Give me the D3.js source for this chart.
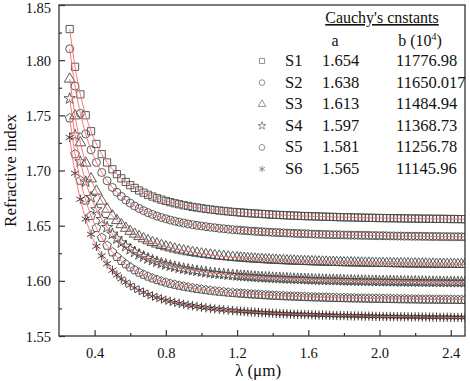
<!DOCTYPE html>
<html>
<head>
<meta charset="utf-8">
<script src="https://cdn.jsdelivr.net/npm/d3@7"></script>
<style>
  body { margin: 0; background: #fff; }
  text { font-family: "Liberation Serif", "Times New Roman", serif; fill: #111; }
</style>
</head>
<body>
<div id="chart"></div>
<script>
// wavelength (um) of the measured points
const lambda = [
  0.26, 0.29, 0.32, 0.35, 0.38, 0.41, 0.44, 0.47, 0.50,
  0.525, 0.55, 0.575, 0.60, 0.625, 0.65, 0.675, 0.70, 0.725, 0.75, 0.775, 0.80,
  0.825, 0.85, 0.875, 0.90, 0.925, 0.95, 0.975, 1.00, 1.025, 1.05, 1.075, 1.10,
  1.125, 1.15, 1.175, 1.20,
  1.22, 1.24, 1.26, 1.28, 1.30, 1.32, 1.34, 1.36, 1.38, 1.40,
  1.42, 1.44, 1.46, 1.48, 1.50, 1.52, 1.54, 1.56, 1.58, 1.60,
  1.62, 1.64, 1.66, 1.68, 1.70, 1.72, 1.74, 1.76, 1.78, 1.80,
  1.82, 1.84, 1.86, 1.88, 1.90, 1.92, 1.94, 1.96, 1.98, 2.00,
  2.02, 2.04, 2.06, 2.08, 2.10, 2.12, 2.14, 2.16, 2.18, 2.20,
  2.22, 2.24, 2.26, 2.28, 2.30, 2.32, 2.34, 2.36, 2.38, 2.40,
  2.42, 2.44, 2.46, 2.48
];

const s1 = [
  1.8282, 1.7940, 1.7690, 1.7501, 1.7356, 1.7241, 1.7148, 1.7073, 1.7011,
  1.6967, 1.6929, 1.6896, 1.6867, 1.6842, 1.6819, 1.6799, 1.6780, 1.6764, 1.6749, 1.6736, 1.6724,
  1.6713, 1.6703, 1.6694, 1.6685, 1.6678, 1.6670, 1.6664, 1.6658, 1.6652, 1.6647, 1.6642, 1.6637,
  1.6633, 1.6629, 1.6625, 1.6622,
  1.6619, 1.6617, 1.6614, 1.6612, 1.6610, 1.6608, 1.6606, 1.6604, 1.6602, 1.6600,
  1.6598, 1.6597, 1.6595, 1.6594, 1.6592, 1.6591, 1.6590, 1.6588, 1.6587, 1.6586,
  1.6585, 1.6584, 1.6583, 1.6582, 1.6581, 1.6580, 1.6579, 1.6578, 1.6577, 1.6576,
  1.6576, 1.6575, 1.6574, 1.6573, 1.6573, 1.6572, 1.6571, 1.6571, 1.6570, 1.6569,
  1.6569, 1.6568, 1.6568, 1.6567, 1.6567, 1.6566, 1.6566, 1.6565, 1.6565, 1.6564,
  1.6564, 1.6563, 1.6563, 1.6563, 1.6562, 1.6562, 1.6562, 1.6561, 1.6561, 1.6560,
  1.6560, 1.6560, 1.6559, 1.6559
];
const s2 = [
  1.8103, 1.7765, 1.7518, 1.7331, 1.7187, 1.7073, 1.6982, 1.6907, 1.6846,
  1.6803, 1.6765, 1.6732, 1.6704, 1.6678, 1.6656, 1.6636, 1.6618, 1.6602, 1.6587, 1.6574, 1.6562,
  1.6551, 1.6541, 1.6532, 1.6524, 1.6516, 1.6509, 1.6503, 1.6497, 1.6491, 1.6486, 1.6481, 1.6476,
  1.6472, 1.6468, 1.6464, 1.6461,
  1.6458, 1.6456, 1.6453, 1.6451, 1.6449, 1.6447, 1.6445, 1.6443, 1.6441, 1.6439,
  1.6438, 1.6436, 1.6435, 1.6433, 1.6432, 1.6430, 1.6429, 1.6428, 1.6427, 1.6426,
  1.6424, 1.6423, 1.6422, 1.6421, 1.6420, 1.6419, 1.6418, 1.6418, 1.6417, 1.6416,
  1.6415, 1.6414, 1.6414, 1.6413, 1.6412, 1.6412, 1.6411, 1.6410, 1.6410, 1.6409,
  1.6409, 1.6408, 1.6407, 1.6407, 1.6406, 1.6406, 1.6405, 1.6405, 1.6404, 1.6404,
  1.6404, 1.6403, 1.6403, 1.6402, 1.6402, 1.6402, 1.6401, 1.6401, 1.6401, 1.6400,
  1.6400, 1.6400, 1.6399, 1.6399
];
const s3 = [
  1.7829, 1.7496, 1.7252, 1.7068, 1.6925, 1.6813, 1.6723, 1.6650, 1.6589,
  1.6547, 1.6510, 1.6477, 1.6449, 1.6424, 1.6402, 1.6382, 1.6364, 1.6348, 1.6334, 1.6321, 1.6309,
  1.6299, 1.6289, 1.6280, 1.6272, 1.6264, 1.6257, 1.6251, 1.6245, 1.6239, 1.6234, 1.6229, 1.6225,
  1.6221, 1.6217, 1.6213, 1.6210,
  1.6207, 1.6205, 1.6202, 1.6200, 1.6198, 1.6196, 1.6194, 1.6192, 1.6190, 1.6189,
  1.6187, 1.6185, 1.6184, 1.6182, 1.6181, 1.6180, 1.6178, 1.6177, 1.6176, 1.6175,
  1.6174, 1.6173, 1.6172, 1.6171, 1.6170, 1.6169, 1.6168, 1.6167, 1.6166, 1.6165,
  1.6165, 1.6164, 1.6163, 1.6163, 1.6162, 1.6161, 1.6161, 1.6160, 1.6159, 1.6159,
  1.6158, 1.6158, 1.6157, 1.6157, 1.6156, 1.6156, 1.6155, 1.6155, 1.6154, 1.6154,
  1.6153, 1.6153, 1.6153, 1.6152, 1.6152, 1.6151, 1.6151, 1.6151, 1.6150, 1.6150,
  1.6150, 1.6149, 1.6149, 1.6149
];
const s4 = [
  1.7652, 1.7322, 1.7080, 1.6898, 1.6757, 1.6646, 1.6557, 1.6485, 1.6425,
  1.6382, 1.6346, 1.6314, 1.6286, 1.6261, 1.6239, 1.6220, 1.6202, 1.6186, 1.6172, 1.6159, 1.6148,
  1.6137, 1.6127, 1.6118, 1.6110, 1.6103, 1.6096, 1.6090, 1.6084, 1.6078, 1.6073, 1.6068, 1.6064,
  1.6060, 1.6056, 1.6052, 1.6049,
  1.6046, 1.6044, 1.6042, 1.6039, 1.6037, 1.6035, 1.6033, 1.6031, 1.6030, 1.6028,
  1.6026, 1.6025, 1.6023, 1.6022, 1.6020, 1.6019, 1.6018, 1.6017, 1.6016, 1.6014,
  1.6013, 1.6012, 1.6011, 1.6010, 1.6009, 1.6008, 1.6008, 1.6007, 1.6006, 1.6005,
  1.6004, 1.6004, 1.6003, 1.6002, 1.6001, 1.6001, 1.6000, 1.6000, 1.5999, 1.5998,
  1.5998, 1.5997, 1.5997, 1.5996, 1.5996, 1.5995, 1.5995, 1.5994, 1.5994, 1.5994,
  1.5993, 1.5993, 1.5992, 1.5992, 1.5991, 1.5991, 1.5991, 1.5990, 1.5990, 1.5990,
  1.5989, 1.5989, 1.5989, 1.5989
];
const s5 = [
  1.7475, 1.7149, 1.6909, 1.6729, 1.6590, 1.6480, 1.6391, 1.6320, 1.6260,
  1.6218, 1.6182, 1.6151, 1.6123, 1.6098, 1.6076, 1.6057, 1.6040, 1.6024, 1.6010, 1.5997, 1.5986,
  1.5975, 1.5966, 1.5957, 1.5949, 1.5942, 1.5935, 1.5928, 1.5923, 1.5917, 1.5912, 1.5907, 1.5903,
  1.5899, 1.5895, 1.5892, 1.5888,
  1.5886, 1.5883, 1.5881, 1.5879, 1.5877, 1.5875, 1.5873, 1.5871, 1.5869, 1.5867,
  1.5866, 1.5864, 1.5863, 1.5861, 1.5860, 1.5859, 1.5858, 1.5856, 1.5855, 1.5854,
  1.5853, 1.5852, 1.5851, 1.5850, 1.5849, 1.5848, 1.5847, 1.5846, 1.5846, 1.5845,
  1.5844, 1.5843, 1.5843, 1.5842, 1.5841, 1.5841, 1.5840, 1.5839, 1.5839, 1.5838,
  1.5838, 1.5837, 1.5837, 1.5836, 1.5836, 1.5835, 1.5835, 1.5834, 1.5834, 1.5833,
  1.5833, 1.5832, 1.5832, 1.5832, 1.5831, 1.5831, 1.5831, 1.5830, 1.5830, 1.5830,
  1.5829, 1.5829, 1.5829, 1.5828
];
const s6 = [
  1.7299, 1.6975, 1.6739, 1.6560, 1.6422, 1.6313, 1.6226, 1.6155, 1.6096,
  1.6054, 1.6018, 1.5987, 1.5960, 1.5935, 1.5914, 1.5895, 1.5877, 1.5862, 1.5848, 1.5836, 1.5824,
  1.5814, 1.5804, 1.5796, 1.5788, 1.5780, 1.5774, 1.5767, 1.5761, 1.5756, 1.5751, 1.5746, 1.5742,
  1.5738, 1.5734, 1.5731, 1.5727,
  1.5725, 1.5722, 1.5720, 1.5718, 1.5716, 1.5714, 1.5712, 1.5710, 1.5709, 1.5707,
  1.5705, 1.5704, 1.5702, 1.5701, 1.5699, 1.5698, 1.5697, 1.5696, 1.5695, 1.5694,
  1.5692, 1.5691, 1.5690, 1.5689, 1.5689, 1.5688, 1.5687, 1.5686, 1.5685, 1.5684,
  1.5684, 1.5683, 1.5682, 1.5682, 1.5681, 1.5680, 1.5680, 1.5679, 1.5678, 1.5678,
  1.5677, 1.5677, 1.5676, 1.5676, 1.5675, 1.5675, 1.5674, 1.5674, 1.5673, 1.5673,
  1.5673, 1.5672, 1.5672, 1.5671, 1.5671, 1.5671, 1.5670, 1.5670, 1.5670, 1.5669,
  1.5669, 1.5669, 1.5668, 1.5668
];

const sampleNames = ["S1", "S2", "S3", "S4", "S5", "S6"];
const constA = ["1.654", "1.638", "1.613", "1.597", "1.581", "1.565"];
const constB = ["11776.98", "11650.017", "11484.94", "11368.73", "11256.78", "11145.96"];
const xTicks = [0.4, 0.8, 1.2, 1.6, 2.0, 2.4];
const yTicks = [1.55, 1.60, 1.65, 1.70, 1.75, 1.80, 1.85];

const W = 470, H = 381;
const margin = { top: 5, right: 5, bottom: 45, left: 59 };
const width = W - margin.left - margin.right,
      height = H - margin.top - margin.bottom;

const svg = d3.select("#chart").append("svg")
    .attr("width", W)
    .attr("height", H);

const g = svg.append("g")
    .attr("transform", `translate(${margin.left},${margin.top})`);

const x = d3.scaleLinear().domain([0.2, 2.48]).range([0, width]);
const y = d3.scaleLinear().domain([1.55, 1.85]).range([height, 0]);

// pentagon marker, d3 has none
const symbolPentagon = {
    draw(context, size) {
        const r = Math.sqrt(size / 2.378);
        for (let i = 0; i < 5; i++) {
            const a = -Math.PI / 2 + i * 2 * Math.PI / 5;
            const px = r * Math.cos(a), py = r * Math.sin(a);
            if (i === 0) context.moveTo(px, py); else context.lineTo(px, py);
        }
        context.closePath();
    }
};

const shapes = [
    { type: d3.symbolSquare, size: 52 },
    { type: d3.symbolCircle, size: 50 },
    { type: d3.symbolTriangle, size: 50 },
    { type: d3.symbolStar, size: 40 },
    { type: symbolPentagon, size: 50 },
    { type: d3.symbolAsterisk, size: 60 }
];

const series = [s1, s2, s3, s4, s5, s6].map((vals, i) => ({
    name: sampleNames[i],
    points: vals.map((v, j) => ({ l: lambda[j], n: v }))
}));

// clip marks to plot area
svg.append("defs").append("clipPath").attr("id", "plotclip")
    .append("rect").attr("width", width).attr("height", height);

const plot = g.append("g").attr("clip-path", "url(#plotclip)");

// markers
series.forEach((s, i) => {
    const sym = d3.symbol().type(shapes[i].type).size(shapes[i].size);
    plot.append("g")
        .selectAll("path")
        .data(s.points)
        .enter().append("path")
        .attr("transform", d => `translate(${x(d.l)},${y(d.n)})`)
        .attr("d", sym)
        .attr("fill", "none")
        .attr("stroke", i === 5 ? "#2a2a2a" : "#4a4a4a")
        .attr("stroke-width", 0.9);
    if (i === 5) {
        plot.append("g").selectAll("circle")
            .data(s.points)
            .enter().append("circle")
            .attr("cx", d => x(d.l))
            .attr("cy", d => y(d.n))
            .attr("r", 1.1)
            .attr("fill", "#222");
    }
});

// fit lines
const line = d3.line()
    .x(d => x(d.l))
    .y(d => y(d.n))
    .curve(d3.curveMonotoneX);

series.forEach(s => {
    plot.append("path")
        .datum(s.points)
        .attr("d", line)
        .attr("fill", "none")
        .attr("stroke", "#f06a6a")
        .attr("stroke-width", 0.9);
});

// axes, ticks inside
const axisColor = "#333";
const xAxis = g.append("g")
    .attr("transform", `translate(0,${height})`)
    .call(d3.axisBottom(x).tickValues(xTicks).tickSizeInner(-6).tickSizeOuter(0)
        .tickPadding(12).tickFormat(d3.format(".1f")));
const xMinor = g.append("g")
    .attr("transform", `translate(0,${height})`)
    .call(d3.axisBottom(x).tickValues([0.6, 1.0, 1.4, 1.8, 2.2]).tickSize(-3).tickFormat(""));
const yAxis = g.append("g")
    .call(d3.axisLeft(y).tickValues(yTicks).tickSizeInner(-6).tickSizeOuter(0)
        .tickPadding(8).tickFormat(d3.format(".2f")));
const yMinor = g.append("g")
    .call(d3.axisLeft(y).tickValues([1.575, 1.625, 1.675, 1.725, 1.775, 1.825]).tickSize(-3).tickFormat(""));

[xAxis, xMinor, yAxis, yMinor].forEach(a => {
    a.select(".domain").remove();
    a.selectAll("line").attr("stroke", axisColor).attr("stroke-width", 1.2);
    a.selectAll("text")
        .style("font-family", "'Liberation Serif', serif")
        .style("font-size", "14.5px")
        .attr("fill", "#111");
});
// top label sits on the edge, nudge it so it is not cut
yAxis.selectAll("text").attr("dy", d => d === 1.85 ? "0.55em" : "0.35em");

// frame
g.append("rect")
    .attr("width", width)
    .attr("height", height)
    .attr("fill", "none")
    .attr("stroke", axisColor)
    .attr("stroke-width", 1.3);

// axis titles
svg.append("text")
    .attr("x", margin.left + width / 2 - 4)
    .attr("y", 376)
    .attr("text-anchor", "middle")
    .style("font-size", "17px")
    .text("λ (μm)");

svg.append("text")
    .attr("transform", `translate(16,${margin.top + height / 2}) rotate(-90)`)
    .attr("text-anchor", "middle")
    .style("font-size", "17px")
    .text("Refractive index");

// table of Cauchy constants
const tbl = svg.append("g");
tbl.append("text")
    .attr("x", 382).attr("y", 23)
    .attr("text-anchor", "middle")
    .style("font-size", "16px")
    .style("text-decoration", "underline")
    .text("Cauchy's cnstants");
tbl.append("text")
    .attr("x", 335).attr("y", 46)
    .attr("text-anchor", "middle")
    .style("font-size", "16px")
    .text("a");
const bHead = tbl.append("text")
    .attr("x", 420).attr("y", 46)
    .attr("text-anchor", "middle")
    .style("font-size", "16px");
bHead.append("tspan").text("b (10");
bHead.append("tspan").attr("dy", -6).style("font-size", "10px").text("4");
bHead.append("tspan").attr("dy", 6).text(")");

sampleNames.forEach((name, i) => {
    const yy = 66 + i * 21.6;
    tbl.append("path")
        .attr("transform", `translate(262,${yy - 5})`)
        .attr("d", d3.symbol().type(shapes[i].type).size(shapes[i].size * 0.5))
        .attr("fill", "none")
        .attr("stroke", "#777")
        .attr("stroke-width", 0.8);
    tbl.append("text").attr("x", 285).attr("y", yy)
        .style("font-size", "16.5px").text(name);
    tbl.append("text").attr("x", 322).attr("y", yy)
        .style("font-size", "16.5px").text(constA[i]);
    tbl.append("text").attr("x", 396).attr("y", yy)
        .style("font-size", "16.5px").text(constB[i]);
});
</script>
</body>
</html>
